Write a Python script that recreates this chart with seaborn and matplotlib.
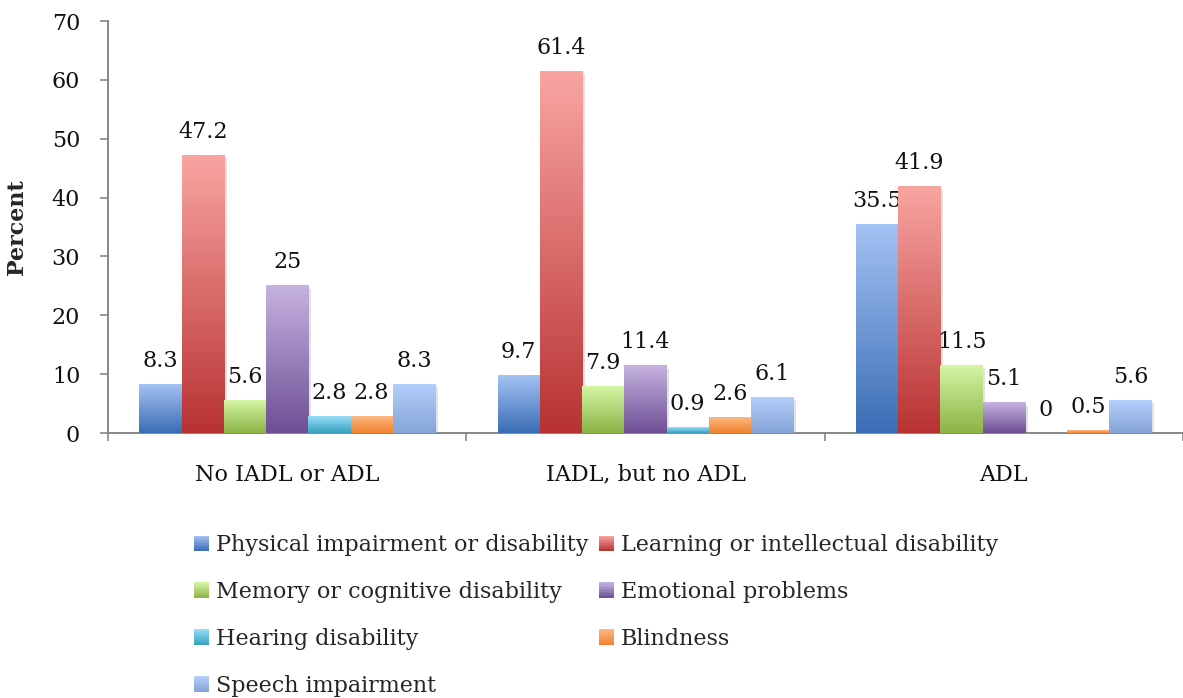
import numpy as np
import pandas as pd
import matplotlib
matplotlib.use("Agg")
import matplotlib.pyplot as plt
import matplotlib.patheffects as pe
from matplotlib.colors import LinearSegmentedColormap, to_rgb
from matplotlib.patches import Patch, Rectangle
from matplotlib.legend_handler import HandlerBase
import seaborn as sns

# Activity-limitation groups and disability types
groups = ["No IADL or ADL", "IADL, but no ADL", "ADL"]
types = [
    "Physical impairment or disability",
    "Learning or intellectual disability",
    "Memory or cognitive disability",
    "Emotional problems",
    "Hearing disability",
    "Blindness",
    "Speech impairment",
]

# Percent per disability type, one value per group
physical = [8.3, 9.7, 35.5]
learning = [47.2, 61.4, 41.9]
memory = [5.6, 7.9, 11.5]
emotional = [25, 11.4, 5.1]
hearing = [2.8, 0.9, 0]
blindness = [2.8, 2.6, 0.5]
speech = [8.3, 6.1, 5.6]

series = [physical, learning, memory, emotional, hearing, blindness, speech]

# Vertical gradient (top, bottom) for each type
gradients = [
    ("#A4C2F4", "#3A6DB5"),
    ("#F9A5A2", "#B83232"),
    ("#D5F5A5", "#8CB345"),
    ("#C6B3E1", "#6D4E94"),
    ("#96DEF6", "#37A1BF"),
    ("#FDB884", "#F0822C"),
    ("#B5CFFC", "#86A4D8"),
]

FS = 16


def mix(c1, c2, t):
    a, b = np.array(to_rgb(c1)), np.array(to_rgb(c2))
    return tuple(a + (b - a) * t)


palette = [mix(t, b, 0.5) for t, b in gradients]

rows = []
for name, vals in zip(types, series):
    for g, v in zip(groups, vals):
        rows.append({"group": g, "type": name, "value": v})
df = pd.DataFrame(rows)

sns.set_theme(style="white")
plt.rcParams["font.family"] = ["DejaVu Serif"]
plt.rcParams["font.size"] = FS

fig = plt.figure(figsize=(11.83, 6.98), dpi=100)
ax = fig.add_axes([108 / 1183, 1 - 433 / 698, 1 - 108 / 1183, (433 - 21) / 698])

sns.barplot(data=df, x="group", y="value", hue="type", order=groups,
            hue_order=types, palette=palette, width=0.825, dodge=True,
            saturation=1, legend=False, ax=ax, edgecolor="none", linewidth=0)

# Fill each bar with a top-to-bottom gradient and give it a soft shadow
shadow = [pe.SimplePatchShadow(offset=(2, -2), shadow_rgbFace="#a0a0a0", alpha=0.3),
          pe.Normal()]
for cont, (top, bot), vals in zip(ax.containers, gradients, series):
    cmap = LinearSegmentedColormap.from_list("g", [top, bot])
    for bar in cont:
        x0, y0 = bar.get_x(), bar.get_y()
        w, h = bar.get_width(), bar.get_height()
        bar.set_path_effects(shadow)
        bar.set_facecolor("none")
        if h <= 0:
            continue
        ax.imshow(np.linspace(0, 1, 256)[:, None], cmap=cmap, origin="upper",
                  extent=(x0, x0 + w, y0, y0 + h), aspect="auto",
                  interpolation="bilinear", zorder=3)
    ax.bar_label(cont, labels=[f"{v:g}" for v in vals], padding=9,
                 fontsize=FS, color="#111111")

ax.set_xlim(-0.5, 2.5)
ax.set_ylim(0, 70)
ax.set_yticks(np.arange(0, 71, 10))
ax.set_xticks(range(3))
ax.set_xticks([-0.5, 0.5, 1.5, 2.5], minor=True)
ax.tick_params(axis="x", which="major", length=0, pad=22, labelsize=FS,
               colors="#111111")
ax.tick_params(axis="x", which="minor", length=6, width=1.2, color="#888888",
               direction="out", bottom=True)
ax.tick_params(axis="y", length=6, width=1.2, color="#888888", pad=14,
               labelsize=FS, labelcolor="#111111", left=True, direction="out")
ax.set_xlabel("")
ax.set_ylabel("Percent", fontsize=FS, fontweight="heavy")
ax.yaxis.set_label_coords(-80 / 1075, 0.5)

for s in ["top", "right"]:
    ax.spines[s].set_visible(False)
for s in ["left", "bottom"]:
    ax.spines[s].set_color("#888888")
    ax.spines[s].set_linewidth(1.4)
ax.grid(False)


# Legend swatches drawn with the same vertical gradient
class GradientHandler(HandlerBase):
    def __init__(self, top, bot):
        super().__init__()
        self.top, self.bot = top, bot

    def create_artists(self, legend, orig_handle, xdescent, ydescent,
                       width, height, fontsize, trans):
        n = 10
        arts = []
        for i in range(n):
            t = 1 - (i + 0.5) / n
            arts.append(Rectangle((-xdescent, -ydescent + height * i / n),
                                  width, height / n * 1.05,
                                  facecolor=mix(self.top, self.bot, t),
                                  edgecolor="none", transform=trans))
        return arts


handles = [Patch(label=n) for n in types]
hmap = {h: GradientHandler(t, b) for h, (t, b) in zip(handles, gradients)}
order = [0, 2, 4, 6, 1, 3, 5]
fig.legend([handles[i] for i in order], [types[i] for i in order],
           handler_map=hmap, ncol=2, loc="upper left",
           bbox_to_anchor=(194 / 1183, 1 - 534 / 698), frameon=False,
           fontsize=FS, handlelength=0.68, handleheight=0.68,
           handletextpad=0.32, columnspacing=0.45, labelspacing=1.12,
           borderpad=0, borderaxespad=0)

fig.savefig("out.png", dpi=100)
